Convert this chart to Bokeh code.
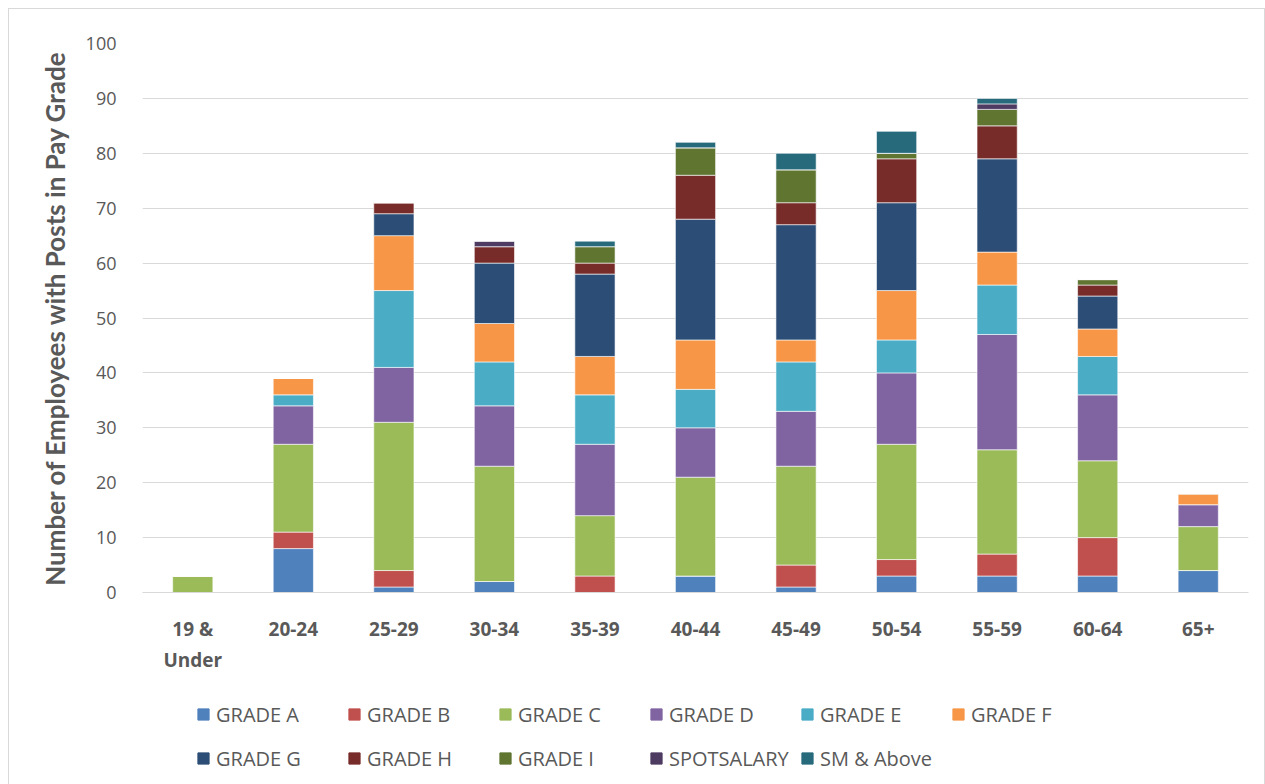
from bokeh.plotting import figure
from bokeh.layouts import column
from bokeh.models import ColumnDataSource, FactorRange, Range1d, Legend, LegendItem, SingleIntervalTicker
from bokeh.embed import file_html
from bokeh.resources import INLINE

ages = ["19 &\nUnder", "20-24", "25-29", "30-34", "35-39", "40-44", "45-49", "50-54", "55-59", "60-64", "65+"]
grades = ["GRADE A", "GRADE B", "GRADE C", "GRADE D", "GRADE E", "GRADE F",
          "GRADE G", "GRADE H", "GRADE I", "SPOTSALARY", "SM & Above"]

grade_a = [0, 8, 1, 2, 0, 3, 1, 3, 3, 3, 4]
grade_b = [0, 3, 3, 0, 3, 0, 4, 3, 4, 7, 0]
grade_c = [3, 16, 27, 21, 11, 18, 18, 21, 19, 14, 8]
grade_d = [0, 7, 10, 11, 13, 9, 10, 13, 21, 12, 4]
grade_e = [0, 2, 14, 8, 9, 7, 9, 6, 9, 7, 0]
grade_f = [0, 3, 10, 7, 7, 9, 4, 9, 6, 5, 2]
grade_g = [0, 0, 4, 11, 15, 22, 21, 16, 17, 6, 0]
grade_h = [0, 0, 2, 3, 2, 8, 4, 8, 6, 2, 0]
grade_i = [0, 0, 0, 0, 3, 5, 6, 1, 3, 1, 0]
spotsalary = [0, 0, 0, 1, 0, 0, 0, 0, 1, 0, 0]
sm_above = [0, 0, 0, 0, 1, 1, 3, 4, 1, 0, 0]

colors = ["#4F81BD", "#C0504D", "#9BBB59", "#8064A2", "#4BACC6", "#F79646",
          "#2C4D75", "#772C2A", "#5F7530", "#4D3B62", "#276A7C"]

keys = ["a", "b", "c", "d", "e", "f", "g", "h", "i", "spot", "sm"]
series = [grade_a, grade_b, grade_c, grade_d, grade_e, grade_f, grade_g, grade_h, grade_i, spotsalary, sm_above]
data = {"age": ages}
for k, s in zip(keys, series):
    data[k] = s
source = ColumnDataSource(data)

p = figure(x_range=FactorRange(*ages), y_range=Range1d(0, 100),
           width=1255, height=680, output_backend="svg", toolbar_location=None,
           min_border_left=133, min_border_right=16, min_border_top=34, min_border_bottom=97)

renderers = p.vbar_stack(keys, x="age", width=0.4, color=colors, source=source,
                         line_color="white", line_width=0.6)

p.outline_line_color = None
p.background_fill_color = "white"
p.border_fill_color = "white"

p.yaxis.ticker = SingleIntervalTicker(interval=10)
p.ygrid.grid_line_color = "#d9d9d9"
p.ygrid.grid_line_width = 1.2
p.xgrid.grid_line_color = None

p.yaxis.axis_line_color = None
p.yaxis.major_tick_line_color = None
p.yaxis.minor_tick_line_color = None
p.yaxis.major_label_text_font = "Open Sans"
p.yaxis.major_label_text_font_size = "18px"
p.yaxis.major_label_text_color = "#595959"
p.yaxis.major_label_standoff = 20
p.yaxis.axis_label = "Number of Employees with Posts in Pay Grade"
p.yaxis.axis_label_text_font = "Lato"
p.yaxis.axis_label_text_font_style = "bold"
p.yaxis.axis_label_text_font_size = "26px"
p.yaxis.axis_label_text_color = "#595959"
p.yaxis.axis_label_standoff = 12

p.xaxis.axis_line_color = "#d9d9d9"
p.xaxis.axis_line_width = 1.2
p.xaxis.major_tick_line_color = None
p.xaxis.minor_tick_line_color = None
p.xaxis.major_label_text_font = "Open Sans"
p.xaxis.major_label_text_font_style = "bold"
p.xaxis.major_label_text_font_size = "19px"
p.xaxis.major_label_text_color = "#595959"
p.xaxis.major_label_standoff = 17

# legend figure (bars out of view, only legend visible)
lf = figure(x_range=FactorRange(*ages), y_range=Range1d(1000, 1001),
            width=1255, height=95, output_backend="svg", toolbar_location=None,
            x_axis_location=None, y_axis_location=None, min_border=0)
lf.outline_line_color = None
lf.xgrid.grid_line_color = None
lf.ygrid.grid_line_color = None
lrenderers = lf.vbar_stack(keys, x="age", width=0.4, color=colors, source=source)

items = [LegendItem(label=g, renderers=[r]) for g, r in zip(grades, lrenderers)]
legend = Legend(items=items, orientation="horizontal", ncols=6,
                location=(54, 7),
                label_text_font="Open Sans", label_text_font_size="20px",
                label_text_color="#595959", glyph_width=14, glyph_height=14,
                label_standoff=6, label_width=125, spacing=6,
                label_height=38, border_line_color=None,
                background_fill_alpha=0, padding=0, margin=0)
lf.add_layout(legend, "center")

layout = column(p, lf, spacing=0,
                styles={"margin-left": "8px", "margin-top": "8px", "border": "1px solid #d9d9d9",
                        "background-color": "white"})

open("out.html", "w").write(file_html(layout, INLINE))
